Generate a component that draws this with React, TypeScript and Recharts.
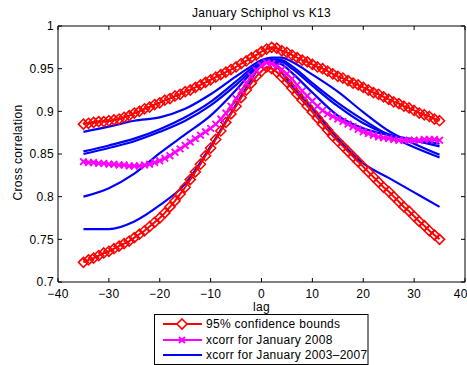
import React from "react";
import { LineChart, Line, XAxis, YAxis, ReferenceLine } from "recharts";

// lags for the bounds and the 2008 xcorr (one value per lag)
const lags = [
  -35, -34, -33, -32, -31, -30, -29, -28, -27, -26,
  -25, -24, -23, -22, -21, -20, -19, -18, -17, -16,
  -15, -14, -13, -12, -11, -10, -9, -8, -7, -6,
  -5, -4, -3, -2, -1, 0,
  1, 2, 3, 4, 5, 6, 7, 8, 9, 10,
  11, 12, 13, 14, 15, 16, 17, 18, 19, 20,
  21, 22, 23, 24, 25, 26, 27, 28, 29, 30,
  31, 32, 33, 34, 35,
];

const upperBound = [
  0.885, 0.886, 0.887, 0.888, 0.888, 0.889, 0.890, 0.891, 0.893, 0.895,
  0.898, 0.900, 0.903, 0.905, 0.908, 0.910, 0.913, 0.915, 0.918, 0.920,
  0.923, 0.925, 0.928, 0.931, 0.934, 0.937, 0.940, 0.943, 0.946, 0.949,
  0.952, 0.956, 0.959, 0.963, 0.966, 0.970,
  0.973, 0.975, 0.974, 0.971, 0.969, 0.966, 0.963, 0.960, 0.958, 0.955,
  0.952, 0.950, 0.947, 0.944, 0.941, 0.939, 0.936, 0.933, 0.931, 0.928,
  0.925, 0.922, 0.920, 0.917, 0.914, 0.911, 0.909, 0.906, 0.904, 0.901,
  0.898, 0.896, 0.894, 0.891, 0.889,
];

const lowerBound = [
  0.723, 0.726, 0.728, 0.731, 0.734, 0.736, 0.739, 0.742, 0.745, 0.748,
  0.752, 0.756, 0.760, 0.765, 0.770, 0.775, 0.781, 0.788, 0.795, 0.803,
  0.811, 0.820, 0.829, 0.838, 0.848, 0.857, 0.867, 0.877, 0.887, 0.897,
  0.906, 0.916, 0.925, 0.933, 0.941, 0.947,
  0.952, 0.950, 0.946, 0.940, 0.934, 0.927, 0.920, 0.913, 0.906, 0.899,
  0.892, 0.885, 0.878, 0.871, 0.865, 0.859, 0.853, 0.847, 0.841, 0.835,
  0.829, 0.823, 0.817, 0.811, 0.806, 0.800, 0.794, 0.788, 0.783, 0.777,
  0.771, 0.766, 0.760, 0.755, 0.750,
];

const xcorr2008 = [
  0.841, 0.840, 0.840, 0.839, 0.839, 0.838, 0.838, 0.837, 0.837, 0.836,
  0.836, 0.836, 0.837, 0.838, 0.840, 0.842, 0.845, 0.848, 0.852, 0.856,
  0.860, 0.864, 0.868, 0.872, 0.876, 0.880, 0.885, 0.891, 0.898, 0.906,
  0.915, 0.924, 0.933, 0.941, 0.948, 0.954,
  0.957, 0.956, 0.953, 0.949, 0.944, 0.938, 0.931, 0.924, 0.918, 0.912,
  0.906, 0.901, 0.897, 0.894, 0.891, 0.888, 0.885, 0.882, 0.879, 0.876,
  0.874, 0.872, 0.870, 0.869, 0.868, 0.867, 0.866, 0.866, 0.866, 0.866,
  0.866, 0.867, 0.867, 0.867, 0.866,
];

// the 2003-2007 curves are plain lines, read at fewer lags
const blueLags = [-35, -30, -25, -20, -15, -10, -5, -2, 0, 2, 4, 6, 10, 15, 20, 25, 30, 35];
const xcorr2003 = [0.876, 0.882, 0.889, 0.893, 0.903, 0.920, 0.941, 0.953, 0.960, 0.963, 0.963, 0.958, 0.943, 0.923, 0.899, 0.877, 0.862, 0.849];
const xcorr2004 = [0.853, 0.860, 0.868, 0.879, 0.893, 0.911, 0.935, 0.950, 0.957, 0.961, 0.960, 0.953, 0.933, 0.910, 0.890, 0.872, 0.858, 0.846];
const xcorr2005 = [0.850, 0.857, 0.865, 0.876, 0.889, 0.907, 0.931, 0.947, 0.955, 0.959, 0.958, 0.950, 0.930, 0.906, 0.886, 0.873, 0.866, 0.859];
const xcorr2006 = [0.800, 0.810, 0.827, 0.851, 0.873, 0.895, 0.925, 0.945, 0.955, 0.958, 0.955, 0.945, 0.922, 0.895, 0.880, 0.872, 0.867, 0.862];
const xcorr2007 = [0.762, 0.762, 0.771, 0.790, 0.815, 0.859, 0.908, 0.937, 0.955, 0.960, 0.945, 0.930, 0.903, 0.868, 0.839, 0.822, 0.805, 0.788];

const xTicks = [-40, -30, -20, -10, 0, 10, 20, 30, 40];
const yTicks = [0.7, 0.75, 0.8, 0.85, 0.9, 0.95, 1];
const X_MIN = -40, X_MAX = 40, Y_MIN = 0.7, Y_MAX = 1;

const legendLabels = ["95% confidence bounds", "xcorr for January 2008", "xcorr for January 2003\u20132007"];

const RED = "#ff0000";
const MAGENTA = "#ff00ff";
const BLUE = "#0000ff";
const FONT = '"Liberation Sans", Arial, Helvetica, sans-serif';
const FS = 12;
const LS = 0.3;

// inward tick length on the top / right box edges, in data units (~4px)
const TOP_TICK = ((Y_MAX - Y_MIN) * 4) / 256;
const RIGHT_TICK = ((X_MAX - X_MIN) * 4) / 407;

const toPoints = (xs: number[], ys: number[]) => xs.map((lag, i) => ({ lag, v: ys[i] }));

const upperData = toPoints(lags, upperBound);
const lowerData = toPoints(lags, lowerBound);
const data2008 = toPoints(lags, xcorr2008);
const blueSeries = [xcorr2003, xcorr2004, xcorr2005, xcorr2006, xcorr2007].map((ys) => toPoints(blueLags, ys));

const diamondPath = (cx: number, cy: number, r: number) =>
  `M${cx},${cy - r}L${cx + r},${cy}L${cx},${cy + r}L${cx - r},${cy}Z`;

const Diamond = (props: any) => {
  const { cx, cy, index } = props;
  if (cx == null || cy == null) return <g key={`d${index}`} />;
  return <path key={`d${index}`} d={diamondPath(cx, cy, 5)} fill="none" stroke={RED} strokeWidth={1.6} />;
};

const crossPath = (cx: number, cy: number, r: number) =>
  `M${cx - r},${cy - r}L${cx + r},${cy + r}M${cx - r},${cy + r}L${cx + r},${cy - r}`;

const Cross = (props: any) => {
  const { cx, cy, index } = props;
  if (cx == null || cy == null) return <g key={`x${index}`} />;
  return <path key={`x${index}`} d={crossPath(cx, cy, 3.3)} fill="none" stroke={MAGENTA} strokeWidth={1.9} />;
};

const fmtX = (v: number) => (v < 0 ? "\u2212" + Math.abs(v) : String(v));
const fmtY = (v: number) => String(+v.toFixed(2));

export default function App() {
  const tickStyle = { fill: "#000", fontSize: FS, fontFamily: FONT, letterSpacing: LS };
  return (
    <div style={{ position: "absolute", left: 0, top: 0, width: 467, height: 365, overflow: "hidden", fontFamily: FONT, background: "#fff" }}>
      <LineChart width={467} height={365} margin={{ top: 26, right: 2, bottom: 63, left: 0 }}>
        <XAxis
          type="number"
          dataKey="lag"
          domain={[X_MIN, X_MAX]}
          ticks={xTicks}
          tickFormatter={fmtX}
          height={20}
          tickSize={-4}
          tickMargin={11}
          tick={tickStyle}
          stroke="#000"
          allowDataOverflow
        />
        <YAxis
          type="number"
          domain={[Y_MIN, Y_MAX]}
          ticks={yTicks}
          tickFormatter={fmtY}
          width={58}
          tickSize={-4}
          tickMargin={8}
          tick={tickStyle}
          stroke="#000"
          allowDataOverflow
        />
        {/* box: top and right edges with inward ticks */}
        <ReferenceLine y={Y_MAX} stroke="#000" strokeWidth={1} ifOverflow="visible" />
        <ReferenceLine x={X_MAX} stroke="#000" strokeWidth={1} ifOverflow="visible" />
        {xTicks.map((t) => (
          <ReferenceLine
            key={`tt${t}`}
            segment={[{ x: t, y: Y_MAX }, { x: t, y: Y_MAX - TOP_TICK }]}
            stroke="#000"
            ifOverflow="visible"
          />
        ))}
        {yTicks.map((t) => (
          <ReferenceLine
            key={`rt${t}`}
            segment={[{ x: X_MAX, y: t }, { x: X_MAX - RIGHT_TICK, y: t }]}
            stroke="#000"
            ifOverflow="visible"
          />
        ))}
        {blueSeries.map((d, i) => (
          <Line
            key={`blue${i}`}
            data={d}
            dataKey="v"
            type="monotone"
            stroke={BLUE}
            strokeWidth={2.2}
            dot={false}
            activeDot={false}
            isAnimationActive={false}
          />
        ))}
        <Line data={upperData} dataKey="v" type="linear" stroke={RED} strokeWidth={2} dot={Diamond} activeDot={false} isAnimationActive={false} />
        <Line data={lowerData} dataKey="v" type="linear" stroke={RED} strokeWidth={2} dot={Diamond} activeDot={false} isAnimationActive={false} />
        <Line data={data2008} dataKey="v" type="linear" stroke={MAGENTA} strokeWidth={2} dot={Cross} activeDot={false} isAnimationActive={false} />
      </LineChart>

      <svg width={467} height={365} style={{ position: "absolute", left: 0, top: 0, pointerEvents: "none" }} fontFamily={FONT} fontSize={FS} letterSpacing={LS}>
        <text x={261.5} y={16.5} textAnchor="middle" fill="#000">January Schiphol vs K13</text>
        <text x={261.5} y={311} textAnchor="middle" fill="#000">lag</text>
        <text x={0} y={0} transform="translate(21.5,152.5) rotate(-90)" textAnchor="middle" fill="#000">Cross correlation</text>

        <rect x={154.5} y={314.5} width={213.5} height={50} fill="#fff" stroke="#000" strokeWidth={1} />
        <line x1={163} x2={202} y1={324} y2={324} stroke={RED} strokeWidth={2} />
        <path d={diamondPath(182, 324, 5)} fill="#fff" stroke={RED} strokeWidth={1.6} />
        <line x1={163} x2={202} y1={340} y2={340} stroke={MAGENTA} strokeWidth={2} />
        <path d={crossPath(182, 340, 3)} fill="none" stroke={MAGENTA} strokeWidth={1.9} />
        <line x1={163} x2={202} y1={355} y2={355} stroke={BLUE} strokeWidth={2.2} />
        {legendLabels.map((t, i) => (
          <text key={t} x={206} y={328 + i * 15.5} fill="#000">{t}</text>
        ))}
      </svg>
    </div>
  );
}
